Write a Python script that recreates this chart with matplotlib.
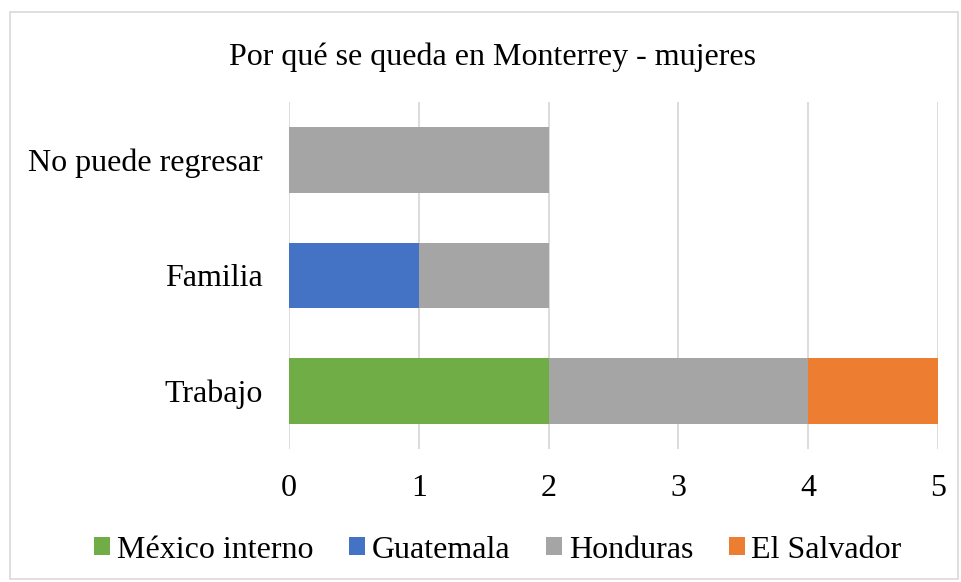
import matplotlib
matplotlib.use('Agg')
from matplotlib import pyplot as plt
from matplotlib.patches import Rectangle
import numpy as np

categories = ['Trabajo', 'Familia', 'No puede regresar']
series_names = ['México interno', 'Guatemala', 'Honduras', 'El Salvador']
mexico = [2, 0, 0]
guatemala = [0, 1, 0]
honduras = [2, 1, 2]
salvador = [1, 0, 0]
colors = ['#70AD47', '#4472C4', '#A5A5A5', '#ED7D31']
title = 'Por qué se queda en Monterrey - mujeres'

plt.rcParams['font.family'] = ['Liberation Serif', 'DejaVu Serif']

fig = plt.figure(figsize=(9.61, 5.82), dpi=100)
ax = fig.add_axes([289 / 961, 1 - 449 / 582, (938 - 289) / 961, (449 - 102) / 582])

y = np.arange(len(categories))
left = np.zeros(len(categories))
for name, vals, col in zip(series_names, [mexico, guatemala, honduras, salvador], colors):
    vals = np.array(vals, dtype=float)
    ax.barh(y, vals, left=left, height=0.57, color=col, label=name, zorder=3)
    left += vals

ax.set_xlim(0, 5)
ax.set_ylim(-0.5, len(categories) - 0.5)
ax.set_yticks(y)
ax.set_yticklabels(categories, fontsize=23)
ax.set_xticks(range(0, 6))
ax.tick_params(axis='x', labelsize=23, length=0, pad=18)
ax.tick_params(axis='y', length=0, pad=19)
ax.grid(axis='x', color='#D9D9D9', linewidth=1.3, zorder=0)
for s in ax.spines.values():
    s.set_visible(False)

fig.text(493 / 961, 1 - 57 / 582, title, ha='center', va='center', fontsize=23)

handles, labels = ax.get_legend_handles_labels()
fig.legend(handles, labels, loc='center', bbox_to_anchor=(498 / 961, 1 - 550 / 582), ncol=4,
           frameon=False, fontsize=23, handlelength=0.5, handleheight=0.5,
           handletextpad=0.2, columnspacing=1.13)

fig.patches.append(Rectangle((10 / 961, 1 - 579 / 582), 948 / 961, 567 / 582,
                             transform=fig.transFigure, fill=False,
                             edgecolor='#D9D9D9', linewidth=1.2))

fig.savefig('out.png', dpi=100)
